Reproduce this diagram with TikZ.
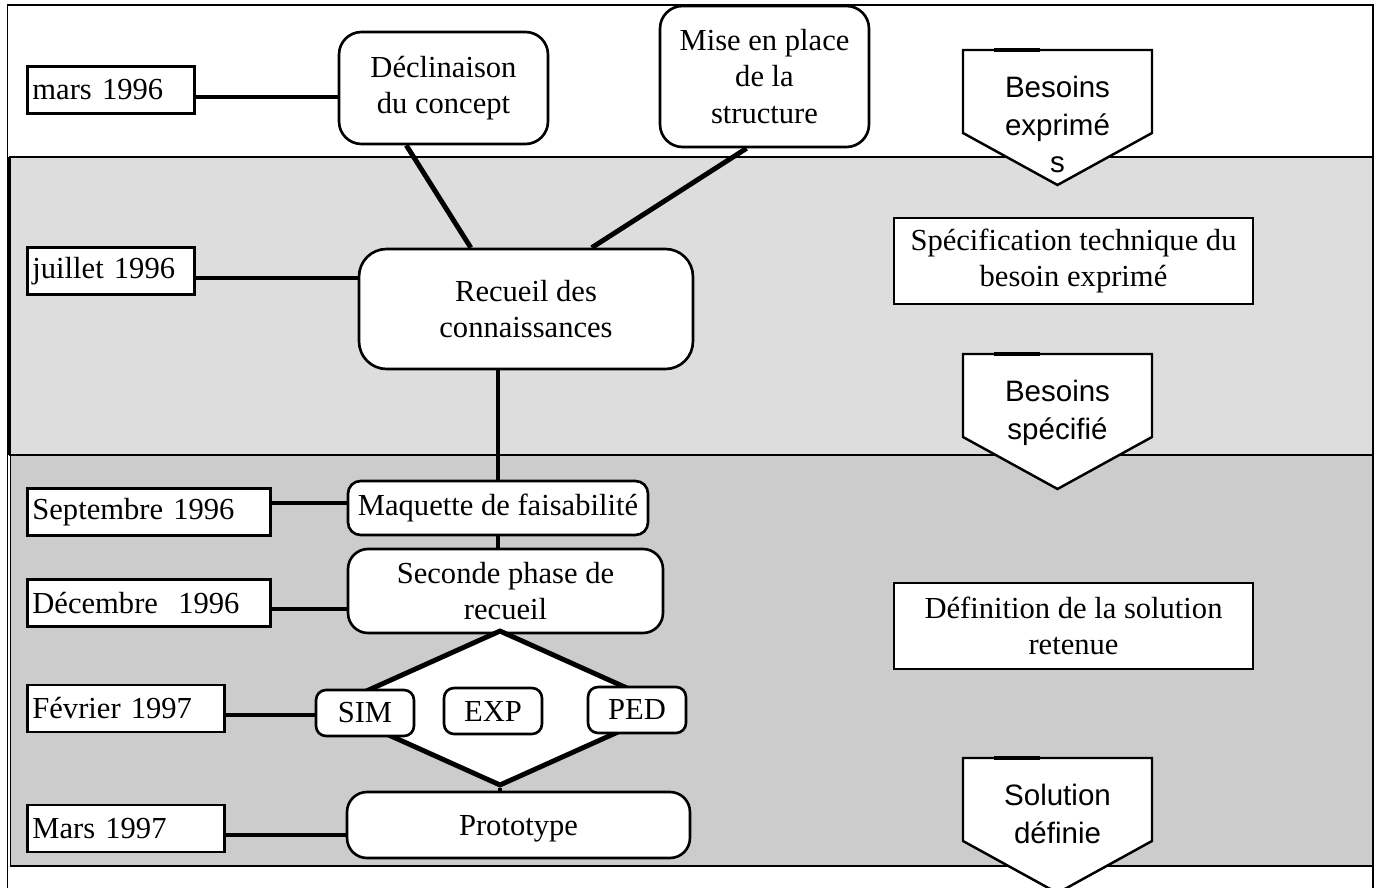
\documentclass[tikz,border=0pt]{standalone}
\usepackage{fontspec}
\setmainfont{Liberation Serif}
\newfontfamily\arialfont{Liberation Sans}
\usepackage{xcolor}
\usepackage{tikz}
\usetikzlibrary{positioning,shapes.geometric}
\definecolor{bandlight}{HTML}{DDDDDD}
\definecolor{banddark}{HTML}{CCCCCC}

\begin{document}
\begin{tikzpicture}[
  x=0.02cm, y=-0.02cm,
  font=\fontsize{17.4}{20.2}\selectfont,
  datebox/.style={draw, line width=1.6pt, fill=white, anchor=west, align=left, inner xsep=0.1cm, inner ysep=0pt, minimum height=0.94cm},
  stage/.style={draw, line width=1.5pt, fill=white, rounded corners=0.45cm, align=center, inner sep=0pt},
  tagbox/.style={stage, rounded corners=0.2cm, minimum width=1.96cm, minimum height=0.92cm},
  specbox/.style={draw, line width=1.6pt, fill=white, align=center, inner sep=0pt, minimum width=7.18cm, minimum height=1.72cm},
  flag/.style={draw, line width=1.4pt, fill=white},
  flagtext/.style={font=\arialfont\fontsize{16.8}{21.3}\selectfont, align=center, anchor=north, inner sep=0pt},
  link/.style={line width=2.8pt},
  band/.style={draw, line width=0.85pt}
]
\useasboundingbox (0,0) rectangle (1376,888);

% Bands.
\draw[band, fill=bandlight] (10,157) rectangle (1373,455);
\draw[band, fill=banddark] (10.5,455) rectangle (1373,866);
\draw[band] (7.5,888) -- (7.5,5) -- (1373,5) -- (1373,888);
\draw[line width=2.2pt] (9,157) -- (9,455);

% Stages.
\node[stage, minimum width=4.18cm, minimum height=2.24cm] (decl) at (443.5,88) {Déclinaison\\du concept};
\node[stage, minimum width=4.18cm, minimum height=2.82cm, font=\fontsize{17.4}{20.8}\selectfont] (mise) at (764.5,76.5) {Mise en place\\de la\\structure};
\node[stage, minimum width=6.68cm, minimum height=2.4cm, rounded corners=0.55cm] (recueil) at (526,309) {Recueil des\\connaissances};
\node[stage, minimum width=6cm, minimum height=1.08cm, rounded corners=0.25cm] (maq) at (498,508) {Maquette de faisabilité};
\node[stage, minimum width=6.3cm, minimum height=1.68cm, rounded corners=0.4cm] (sec) at (505.5,591) {Seconde phase de\\recueil};
\node[draw, diamond, line width=2.8pt, fill=white, inner sep=0pt, minimum width=6.9cm, minimum height=3.12cm] (hub) at (500,708) {};
\foreach \nm/\px/\py/\lbl in {sim/365/713/SIM, exp/493/711/EXP, ped/637/710/PED} {
  \node[tagbox] (\nm) at (\px,\py) {\lbl};
}
\node[stage, minimum width=6.86cm, minimum height=1.32cm, rounded corners=0.4cm, text depth=0pt] (proto) at (518.5,825) {Prototype};

% Dates.
\node[datebox, text width=3.14cm] (mars) at (26,90) {mars 1996};
\node[datebox, text width=3.14cm] (juil) at (26,271) {juillet 1996};
\node[datebox, text width=4.66cm] (sept) at (26,512) {Septembre 1996};
\node[datebox, text width=4.66cm] (dec) at (26,603) {Décembre\ \ 1996};
\node[datebox, text width=3.74cm] (fev) at (26,708.5) {Février 1997};
\node[datebox, text width=3.74cm] (marsb) at (26,828.5) {Mars 1997};

% Results.
\node[specbox] (besoin) at (1073.5,261) {Spécification technique du\\besoin exprimé};
\node[specbox] (solution) at (1073.5,626) {Définition de la solution\\retenue};

\foreach \t/\txt/\nm in {50/{Besoins\\exprimé\\s}/bexp, 354/{Besoins\\spécifié}/bspec, 758/{Solution\\définie}/soldef} {
  \draw[flag] (963,\t) -- (1152,\t) -- (1152,\t+83) -- (1057.5,\t+135) -- (963,\t+83) -- cycle;
  \draw[line width=2.3pt] (994,\t) -- (1040,\t);
  \node[flagtext] (\nm) at (1057.5,\t+26) {\txt};
}

% Links.
\draw[link] (decl.237.6) -- (recueil.132.5);
\draw[link] (mise.256) -- (recueil.43.6);
\draw[link] (maq.north |- recueil.south) -- (maq.north);
\draw[link] (maq.south) -- (maq.south |- sec.north);
\draw[link] (hub.south) -- (hub.south |- proto.north);
\foreach \d/\s/\dy in {mars/decl/7, juil/recueil/7, sept/maq/-9, dec/sec/6, fev/sim/6.5, marsb/proto/6.5} {
  \path (\d.east) ++(0,\dy) coordinate (lk);
  \draw[link] (lk) -- (lk -| \s.west);
}
\end{tikzpicture}
\end{document}
